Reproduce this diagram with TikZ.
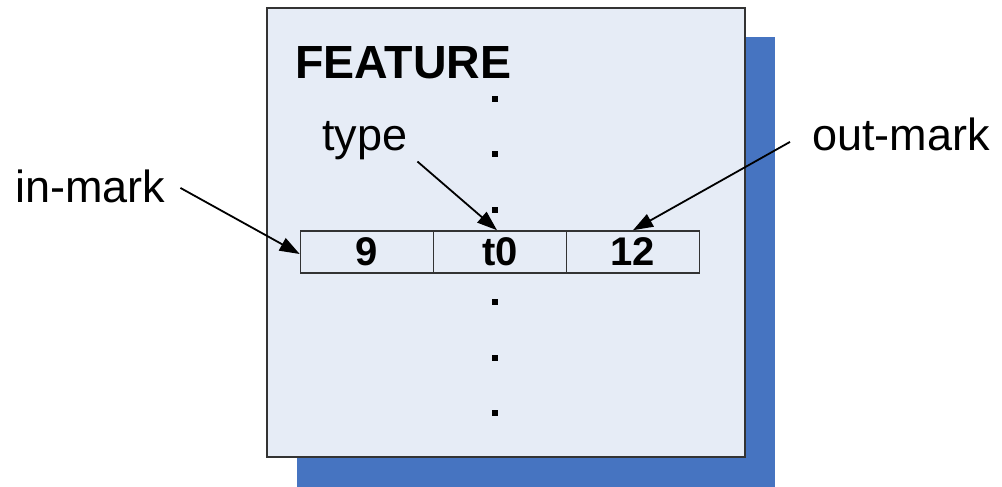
\documentclass[tikz,border=0pt]{standalone}
\usepackage{fontspec}
\setmainfont{Liberation Sans}
\usetikzlibrary{arrows.meta}
\definecolor{boxfill}{RGB}{230,236,246}
\definecolor{boxline}{RGB}{51,51,51}
\definecolor{shadowblue}{RGB}{70,116,193}
\tikzset{
  cell/.style={draw=boxline, line width=1.6pt, minimum width=133pt, minimum height=42pt, inner sep=0pt, font=\fontsize{40}{48}\selectfont\bfseries},
  lbl/.style={inner sep=0pt, font=\fontsize{45}{54}\selectfont},
  pointer/.style={line width=1.8pt, -{Triangle[length=20pt,width=14pt]}},
  dotmark/.style={fill=black, minimum size=6pt, inner sep=0pt}
}
\begin{document}
\begin{tikzpicture}[x=1pt,y=-1pt]
\useasboundingbox (0,0) rectangle (1002,487);
\fill[shadowblue] (297,37) rectangle (775,487);
\draw[draw=boxline, fill=boxfill, line width=2.5pt] (267,8) rectangle (745,457);
\node[lbl, anchor=base west, font=\fontsize{46.5}{54}\selectfont\bfseries] (feature) at (295,79) {FEATURE};
\node[cell] (c9) at (367,252) {9};
\node[cell] (ct) at (500,252) {t0};
\node[cell] (c12) at (633,252) {12};
\foreach \y [count=\i] in {99,154,210,302,358,413} \node[dotmark] (d\i) at (495,\y) {};
\node[lbl, anchor=base west] (inmark) at (15,202) {in-mark};
\node[lbl, anchor=base west] (type) at (322,150) {type};
\node[lbl, anchor=base west] (outmark) at (812,150) {out-mark};
\draw[pointer] ([xshift=15pt,yshift=-2pt]inmark.east) -- ([yshift=-2pt]c9.west);
\draw[pointer] ([xshift=10pt,yshift=-2pt]type.south east) -- ([xshift=-3pt]ct.north);
\draw[pointer] ([xshift=-22pt,yshift=-8pt]outmark.west) -- (c12.north);
\end{tikzpicture}
\end{document}
